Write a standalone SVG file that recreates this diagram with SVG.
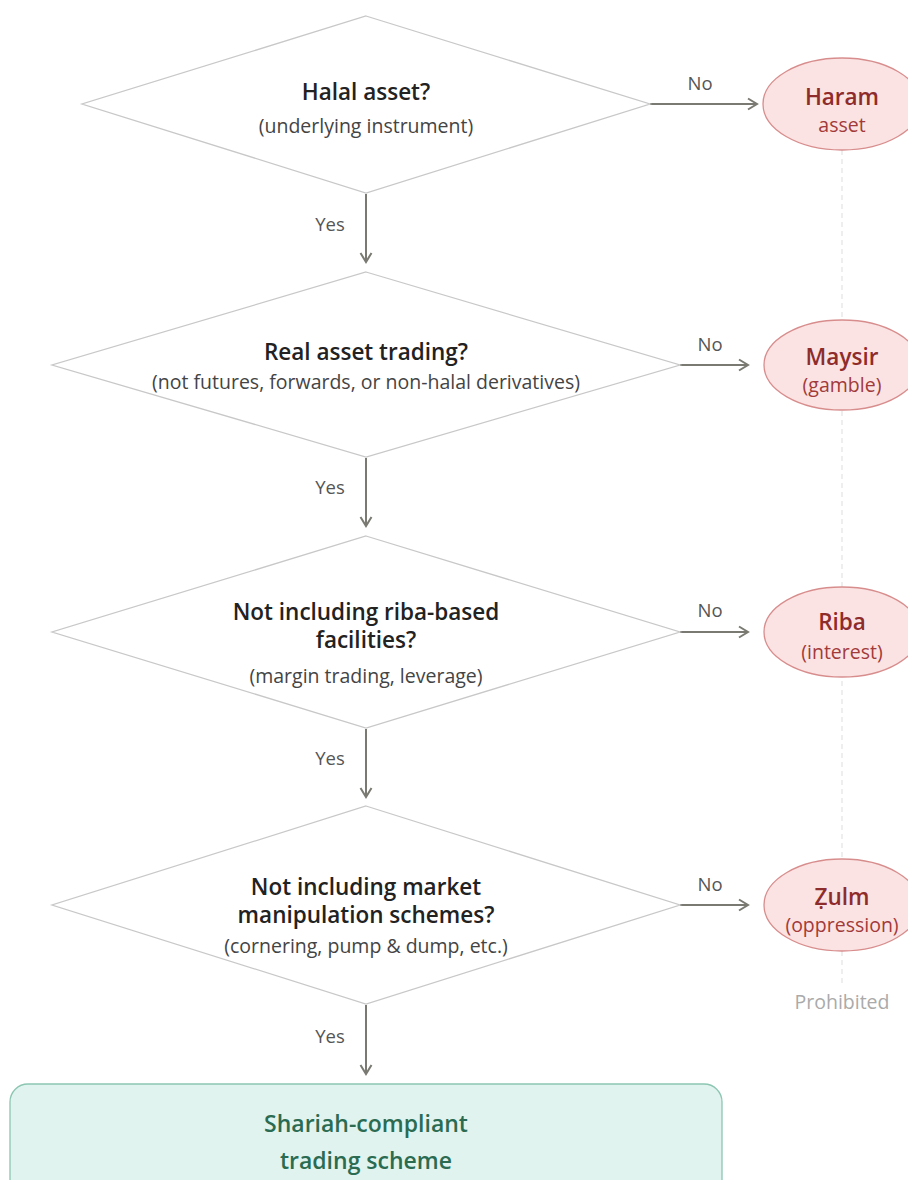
<svg xmlns="http://www.w3.org/2000/svg" width="908" height="1180" viewBox="0 0 908 1180">
<style>
.dia{fill:#fff;stroke:#c8c8c8;stroke-width:1.3}
.t{font-family:"Open Sans","Noto Sans",sans-serif;text-anchor:middle}
.ti{font-size:22.5px;font-weight:600;fill:#222}
.sub{font-size:19.5px;fill:#444}
.lbl{font-size:18.5px;fill:#555}
.conn{stroke:#7a7a72;stroke-width:2;fill:none}
.ell{fill:#fbe3e3;stroke:#d88d8d;stroke-width:1.3}
.et{font-size:22.5px;font-weight:600;fill:#8e2c2c}
.es{font-size:19.5px;fill:#a23a3a}
</style>
<defs>
<marker id="ah" markerWidth="14" markerHeight="14" refX="11" refY="7" orient="auto" markerUnits="userSpaceOnUse">
<path d="M2,1.5 L11,7 L2,12.5" fill="none" stroke="#7a7a72" stroke-width="2"/>
</marker>
</defs>
<rect width="908" height="1180" fill="#fff"/>
<line x1="842" y1="150" x2="842" y2="985" stroke="#ddd" stroke-width="1" stroke-dasharray="5,4"/>
<g id="connectors">
<line class="conn" x1="366" y1="194" x2="366" y2="262" marker-end="url(#ah)"/>
<line class="conn" x1="366" y1="458" x2="366" y2="526" marker-end="url(#ah)"/>
<line class="conn" x1="366" y1="729" x2="366" y2="797" marker-end="url(#ah)"/>
<line class="conn" x1="366" y1="1005" x2="366" y2="1074" marker-end="url(#ah)"/>
<line class="conn" x1="650" y1="104" x2="757" y2="104" marker-end="url(#ah)"/>
<line class="conn" x1="680" y1="365" x2="748" y2="365" marker-end="url(#ah)"/>
<line class="conn" x1="680" y1="632" x2="748" y2="632" marker-end="url(#ah)"/>
<line class="conn" x1="680" y1="905" x2="748" y2="905" marker-end="url(#ah)"/>
<text class="t lbl" x="330" y="231">Yes</text>
<text class="t lbl" x="330" y="494">Yes</text>
<text class="t lbl" x="330" y="765">Yes</text>
<text class="t lbl" x="330" y="1043">Yes</text>
<text class="t lbl" x="700" y="90">No</text>
<text class="t lbl" x="710" y="351">No</text>
<text class="t lbl" x="710" y="617">No</text>
<text class="t lbl" x="710" y="891">No</text>
</g>
<g id="q1">
<polygon class="dia" points="366,16 650,104 366,193 82,104"/>
<text class="t ti" x="366" y="100">Halal asset?</text>
<text class="t sub" x="366" y="133">(underlying instrument)</text>
</g>
<g id="q2">
<polygon class="dia" points="366,272 680,365 366,457 52,365"/>
<text class="t ti" x="366" y="360">Real asset trading?</text>
<text class="t sub" x="366" y="389">(not futures, forwards, or non-halal derivatives)</text>
</g>
<g id="q3">
<polygon class="dia" points="366,536 680,632 366,728 52,632"/>
<text class="t ti" x="366" y="620">Not including riba-based</text>
<text class="t ti" x="366" y="648">facilities?</text>
<text class="t sub" x="366" y="683">(margin trading, leverage)</text>
</g>
<g id="q4">
<polygon class="dia" points="366,806 680,905 366,1004 52,905"/>
<text class="t ti" x="366" y="895">Not including market</text>
<text class="t ti" x="366" y="923">manipulation schemes?</text>
<text class="t sub" x="366" y="953">(cornering, pump &amp; dump, etc.)</text>
</g>
<g id="haram">
<ellipse class="ell" cx="842" cy="104" rx="79" ry="46"/>
<text class="t et" x="842" y="105">Haram</text>
<text class="t es" x="842" y="132">asset</text>
</g>
<g id="maysir">
<ellipse class="ell" cx="842" cy="365" rx="78" ry="45"/>
<text class="t et" x="842" y="365">Maysir</text>
<text class="t es" x="842" y="392">(gamble)</text>
</g>
<g id="riba">
<ellipse class="ell" cx="842" cy="632" rx="78" ry="45"/>
<text class="t et" x="842" y="630">Riba</text>
<text class="t es" x="842" y="659">(interest)</text>
</g>
<g id="zulm">
<ellipse class="ell" cx="842" cy="905" rx="78" ry="46"/>
<text class="t et" x="842" y="905">Ẓulm</text>
<text class="t es" x="842" y="932">(oppression)</text>
</g>
<text class="t" x="842" y="1009" font-size="19.5" fill="#aaa">Prohibited</text>
<g id="result">
<rect x="10" y="1084" width="712" height="130" rx="18" fill="#e0f3ee" stroke="#8cc6b2" stroke-width="1.3"/>
<text class="t" x="366" y="1132" font-size="23" font-weight="600" fill="#2b6b52">Shariah-compliant</text>
<text class="t" x="366" y="1169" font-size="23" font-weight="600" fill="#2b6b52">trading scheme</text>
</g>
</svg>
